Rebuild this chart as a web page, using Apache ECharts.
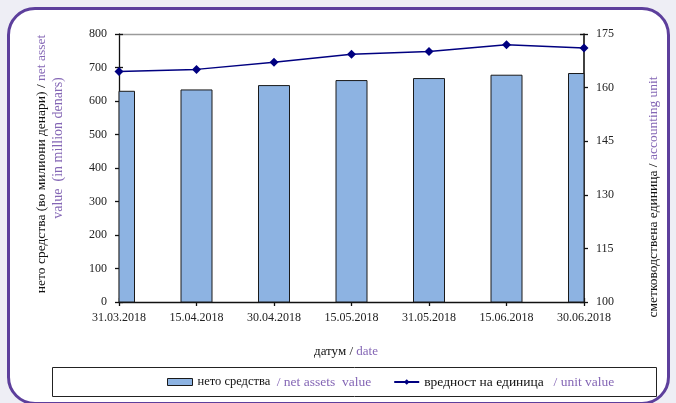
<!DOCTYPE html>
<html>
<head>
<meta charset="utf-8">
<script src="https://cdn.jsdelivr.net/npm/echarts@6/dist/echarts.min.js"></script>
<style>
  html, body { margin: 0; padding: 0; background: #eeeef5; }
  #frame {
    position: absolute; left: 7px; top: 7px; width: 657px; height: 392px;
    border: 3px solid #5d3f9c; border-radius: 28px; background: #fff;
  }
  #main { position: absolute; left: 0; top: 0; width: 676px; height: 403px; }
</style>
</head>
<body>
<div id="frame"></div>
<div id="main"></div>
<script>
// датуми
const dates = ['31.03.2018', '15.04.2018', '30.04.2018', '15.05.2018', '31.05.2018', '15.06.2018', '30.06.2018'];
// нето средства (милиони денари)
const netAssets = [629, 633, 646, 661, 667, 677, 682];
// вредност на единица
const unitValue = [164.5, 165.1, 167.1, 169.3, 170.1, 172.0, 171.1];
const leftTicks = { min: 0, max: 800, interval: 100 };
const rightTicks = { min: 100, max: 175, interval: 15 };

const serif = 'Liberation Serif';
const purple = '#8466b5';
const barFill = '#8db3e2';
const barBorder = '#1a1a1a';
const lineColor = '#000080';

const chart = echarts.init(document.getElementById('main'), null, { renderer: 'canvas' });

const hidden = { show: false };
const tickStyle = { color: '#111', width: 1.3 };

// bars centred on the date ticks, cut off at the plot edges
function renderBar(params, api) {
  const top = api.coord([api.value(0), api.value(1)]);
  const base = api.coord([api.value(0), 0]);
  const w = 31;
  const rect = echarts.graphic.clipRectByRect(
    { x: top[0] - w / 2, y: top[1], width: w, height: base[1] - top[1] },
    params.coordSys
  );
  if (!rect) return null;
  return {
    type: 'rect',
    shape: rect,
    style: { fill: barFill, stroke: barBorder, lineWidth: 1 }
  };
}

const option = {
  backgroundColor: 'transparent',
  animation: false,
  textStyle: { fontFamily: serif },
  grid: { left: 119, top: 34, width: 465, height: 268 },
  xAxis: [
    {
      type: 'category', data: dates, boundaryGap: false, position: 'bottom',
      axisLine: { lineStyle: { color: '#111', width: 1.3 } },
      axisTick: { show: true, length: 4, lineStyle: tickStyle },
      axisLabel: { color: '#222', fontFamily: serif, fontSize: 12, margin: 10 },
      splitLine: hidden
    },
    {
      type: 'category', data: dates, boundaryGap: false, position: 'bottom',
      axisLine: hidden, axisLabel: hidden, splitLine: hidden,
      axisTick: { show: true, inside: true, length: 4, lineStyle: tickStyle }
    },
    {
      type: 'category', data: dates, boundaryGap: false, position: 'top',
      axisLine: { lineStyle: { color: '#9a9a9a', width: 1.3 } },
      axisTick: hidden, axisLabel: hidden, splitLine: hidden
    }
  ],
  yAxis: [
    {
      type: 'value', position: 'left', ...leftTicks,
      axisLine: { show: true, lineStyle: { color: '#111', width: 1.3 } },
      axisTick: { show: true, length: 4, lineStyle: tickStyle },
      axisLabel: { color: '#222', fontFamily: serif, fontSize: 12, margin: 12 },
      splitLine: hidden
    },
    {
      type: 'value', position: 'right', ...rightTicks,
      axisLine: { show: true, lineStyle: { color: '#111', width: 1.6 } },
      axisTick: { show: true, length: 4, lineStyle: tickStyle },
      axisLabel: { color: '#222', fontFamily: serif, fontSize: 12, margin: 12 },
      splitLine: hidden
    },
    {
      type: 'value', position: 'left', ...leftTicks,
      axisLine: hidden, axisLabel: hidden, splitLine: hidden,
      axisTick: { show: true, inside: true, length: 4, lineStyle: tickStyle }
    },
    {
      type: 'value', position: 'right', ...rightTicks,
      axisLine: hidden, axisLabel: hidden, splitLine: hidden,
      axisTick: { show: true, inside: true, length: 4, lineStyle: tickStyle }
    }
  ],
  legend: {
    left: 167, top: 374, padding: 0,
    itemGap: 22, itemWidth: 25, itemHeight: 7,
    data: [
      { name: 'нето средства', icon: 'rect', itemStyle: { color: barFill, borderColor: barBorder, borderWidth: 1 } },
      { name: 'вредност на единица' }
    ],
    formatter: function (name) {
      if (name === 'нето средства') return '{a|нето средства}  {b|/ net assets  value}';
      return '{c|вредност на единица}   {b|/ unit value}';
    },
    textStyle: {
      fontFamily: serif, fontSize: 13, lineHeight: 16,
      rich: {
        a: { color: '#111', fontFamily: serif, fontSize: 12.5, lineHeight: 16 },
        c: { color: '#111', fontFamily: serif, fontSize: 13.5, lineHeight: 16 },
        b: { color: purple, fontFamily: serif, fontSize: 13.5, lineHeight: 16 }
      }
    }
  },
  graphic: [
    {
      type: 'rect', left: 50, top: 365,
      shape: { width: 604, height: 29 },
      style: { fill: 'none', stroke: '#222', lineWidth: 1 }
    },
    {
      type: 'text', x: 41, y: 164, rotation: Math.PI / 2,
      style: {
        text: '{a|нето средства (во милиони денари) / }{b|net asset}',
        align: 'center', verticalAlign: 'middle',
        rich: {
          a: { fill: '#111', fontFamily: serif, fontSize: 13.5 },
          b: { fill: purple, fontFamily: serif, fontSize: 13.5 }
        }
      }
    },
    {
      type: 'text', x: 58, y: 148, rotation: Math.PI / 2,
      style: {
        text: 'value  (in million denars)', fill: purple,
        fontFamily: serif, fontSize: 14,
        align: 'center', verticalAlign: 'middle'
      }
    },
    {
      type: 'text', x: 653, y: 197, rotation: Math.PI / 2,
      style: {
        text: '{a|сметководствена единица / }{b|accounting unit}',
        align: 'center', verticalAlign: 'middle',
        rich: {
          a: { fill: '#111', fontFamily: serif, fontSize: 13.5 },
          b: { fill: purple, fontFamily: serif, fontSize: 13.5 }
        }
      }
    },
    {
      type: 'text', x: 346, y: 352,
      style: {
        text: '{a|датум / }{b|date}',
        align: 'center', verticalAlign: 'middle',
        rich: {
          a: { fill: '#111', fontFamily: serif, fontSize: 13 },
          b: { fill: purple, fontFamily: serif, fontSize: 13 }
        }
      }
    }
  ],
  series: [
    {
      name: 'нето средства', type: 'custom',
      data: netAssets.map((v, i) => [i, v]),
      encode: { x: 0, y: 1 },
      xAxisIndex: 0, yAxisIndex: 0,
      renderItem: renderBar,
      itemStyle: { color: barFill, borderColor: barBorder, borderWidth: 1 }
    },
    {
      name: 'вредност на единица', type: 'line', data: unitValue,
      xAxisIndex: 0, yAxisIndex: 1, symbol: 'diamond', symbolSize: 9,
      showAllSymbol: true, clip: false, z: 5,
      lineStyle: { color: lineColor, width: 1.5 },
      itemStyle: { color: lineColor }
    }
  ]
};
chart.setOption(option);
</script>
</body>
</html>
